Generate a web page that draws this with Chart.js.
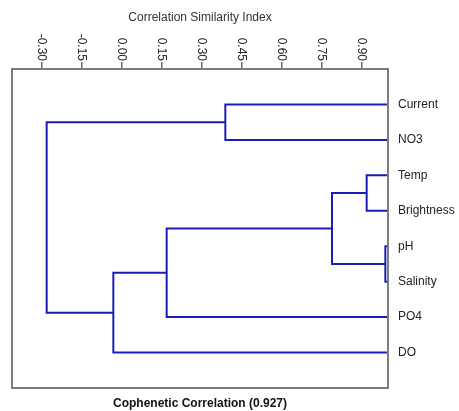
<!DOCTYPE html>
<html lang="en">
<head>
  <meta charset="UTF-8" />
  <title>Dendrogram</title>
  <script src="https://cdn.jsdelivr.net/npm/chart.js"></script>
  <style>
    html, body {
      margin: 0;
      background: #fff;
    }
    #wrap {
      width: 459px;
      height: 411px;
    }
  </style>
</head>
<body>
<div id="wrap"><canvas id="chart" width="459" height="411"></canvas></div>

<script>
  // leaves, top to bottom
  const leafLabels = ['Current', 'NO3', 'Temp', 'Brightness', 'pH', 'Salinity', 'PO4', 'DO'];
  // merges: node ids < 8 are leaves, node 8 is the first merge, etc.
  const mergeA = [0, 2, 4, 9, 11, 12, 8];
  const mergeB = [1, 3, 5, 10, 6, 7, 13];
  const mergeHeight = [0.39, 0.92, 0.99, 0.79, 0.17, -0.03, -0.28];
  const xTicks = [-0.30, -0.15, 0.00, 0.15, 0.30, 0.45, 0.60, 0.75, 0.90];

  const xMin = -0.41, xMax = 1.0;
  const lineColor = '#1d1db3';
  const font = '"Liberation Sans", Arial, sans-serif';

  // node positions: leaves sit at the right edge
  const nodeX = leafLabels.map(() => xMax);
  const nodeY = leafLabels.map((_, i) => i + 1);
  const datasets = [];
  mergeHeight.forEach((h, i) => {
    const a = mergeA[i], b = mergeB[i];
    datasets.push({
      data: [
        { x: nodeX[a], y: nodeY[a] },
        { x: h, y: nodeY[a] },
        { x: h, y: nodeY[b] },
        { x: nodeX[b], y: nodeY[b] }
      ],
      showLine: true,
      borderColor: lineColor,
      borderWidth: 2,
      pointRadius: 0,
      fill: false,
      xAxisID: 'x',
      yAxisID: 'y'
    });
    nodeX.push(h);
    nodeY.push((nodeY[a] + nodeY[b]) / 2);
  });

  const frame = {
    id: 'frame',
    afterDraw(chart) {
      const { ctx, chartArea: a } = chart;
      ctx.save();
      ctx.strokeStyle = '#7d7d7d';
      ctx.lineWidth = 2;
      ctx.strokeRect(a.left, a.top, a.right - a.left, a.bottom - a.top);
      ctx.restore();
    }
  };

  // tick labels read top to bottom, ending at the axis
  const topLabels = {
    id: 'topLabels',
    afterDraw(chart) {
      const s = chart.scales.x, ctx = chart.ctx;
      ctx.save();
      ctx.font = '12px ' + font;
      ctx.fillStyle = '#222';
      ctx.textAlign = 'right';
      ctx.textBaseline = 'middle';
      s.ticks.forEach(t => {
        ctx.save();
        ctx.translate(s.getPixelForValue(t.value), chart.chartArea.top - 8);
        ctx.rotate(Math.PI / 2);
        ctx.fillText(t.value.toFixed(2), 0, 0);
        ctx.restore();
      });
      ctx.restore();
    }
  };

  new Chart(document.getElementById('chart'), {
    type: 'scatter',
    data: { datasets: datasets },
    options: {
      responsive: false,
      animation: false,
      layout: { padding: { left: 12, top: 0, right: 0, bottom: 0 } },
      plugins: {
        legend: { display: false },
        tooltip: { enabled: false }
      },
      scales: {
        x: {
          type: 'linear',
          position: 'top',
          min: xMin,
          max: xMax,
          afterBuildTicks: s => { s.ticks = xTicks.map(v => ({ value: v })); },
          afterFit: s => { s.height = 69; },
          ticks: { display: false },
          border: { display: false },
          grid: { drawOnChartArea: false, drawTicks: true, tickLength: 7, color: '#666', lineWidth: 1.5 },
          title: {
            display: true,
            text: 'Correlation Similarity Index',
            color: '#333',
            font: { family: font, size: 12 },
            padding: { top: 10, bottom: 0 }
          }
        },
        x2: {
          type: 'linear',
          position: 'bottom',
          min: 0,
          max: 1,
          afterFit: s => { s.height = 23; },
          ticks: { display: false },
          border: { display: false },
          grid: { display: false, drawTicks: false },
          title: {
            display: true,
            text: 'Cophenetic Correlation (0.927)',
            color: '#111',
            font: { family: font, size: 12, weight: 'bold' },
            padding: { top: 0, bottom: 0 }
          }
        },
        y: {
          type: 'linear',
          position: 'right',
          reverse: true,
          min: 0,
          max: leafLabels.length + 1,
          afterBuildTicks: s => { s.ticks = leafLabels.map((_, i) => ({ value: i + 1 })); },
          afterFit: s => { s.width = 71; },
          border: { display: false },
          grid: { display: false, drawTicks: false },
          ticks: {
            padding: 10,
            color: '#222',
            font: { family: font, size: 12 },
            callback: v => leafLabels[v - 1]
          }
        }
      }
    },
    plugins: [frame, topLabels]
  });
</script>
</body>
</html>
